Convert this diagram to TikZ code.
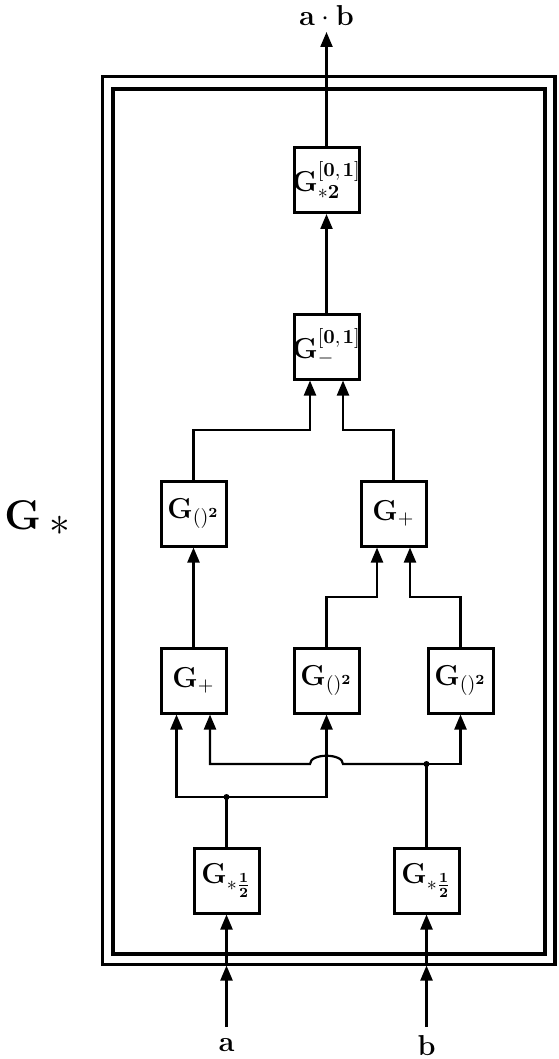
\documentclass[tikz,border=0pt]{standalone}
\usetikzlibrary{arrows.meta}
\begin{document}
\begin{tikzpicture}[x=0.5pt,y=-0.5pt,
  gbox/.style={draw,line width=1.5pt,minimum size=32.5pt,inner sep=0pt,font=\fontsize{14.4}{16}\selectfont},
  conn/.style={line width=1.1pt},
  arr/.style={conn,-{Triangle[length=7.5pt,width=6pt]}},
  lbl/.style={font=\fontsize{14.4}{17}\selectfont},
  dotm/.style={circle,fill,inner sep=0pt,minimum size=3pt}]
\useasboundingbox (0,0) rectangle (558,1059);
% frames
\draw[line width=1.6pt] (102.5,76.7) rectangle (555,964.3);
\draw[line width=2pt] (113,88.7) rectangle (545.3,954.3);
\node[font=\fontsize{20.74}{24}\selectfont,anchor=base west,inner sep=0pt] (gstar) at (4,529) {$\mathbf{G}_{\hspace{4pt}\textstyle\ast}$};
% boxes
\node[gbox] (m2) at (326.5,180) {\makebox[0pt]{$\mathbf{G}_{*\mathbf{2}}^{[\mathbf{0},\mkern2mu\mathbf{1}]}$}};
\node[gbox] (mm) at (326.5,346.5) {\makebox[0pt]{$\mathbf{G}_{-}^{[\mathbf{0},\mkern2mu\mathbf{1}]}$}};
\node[gbox] (sqL) at (193.5,513.5) {\makebox[0pt]{$\mathbf{G}_{()^{\mathbf{2}}}$}};
\node[gbox] (plR) at (393.5,513.5) {\makebox[0pt]{$\mathbf{G}_{+}$}};
\node[gbox] (plL) at (193.5,680.5) {\makebox[0pt]{$\mathbf{G}_{+}$}};
\node[gbox] (sqM) at (326.5,680.5) {\makebox[0pt]{$\mathbf{G}_{()^{\mathbf{2}}}$}};
\node[gbox] (sqR) at (460.5,680.5) {\makebox[0pt]{$\mathbf{G}_{()^{\mathbf{2}}}$}};
\node[gbox] (hA) at (226.5,880.5) {\makebox[0pt]{$\mathbf{G}_{*\frac{\mathbf{1}}{\mathbf{2}}}$}};
\node[gbox] (hB) at (426.5,880.5) {\makebox[0pt]{$\mathbf{G}_{*\frac{\mathbf{1}}{\mathbf{2}}}$}};
% labels
\node[lbl] (lab) at (326.5,16) {$\mathbf{a}\cdot\mathbf{b}$};
\node[lbl] (la) at (226.5,1045) {$\mathbf{a}$};
\node[lbl] (lb) at (426.5,1045) {$\mathbf{b}$};
% coordinates
\coordinate (out) at (326.5,32);
\coordinate (j1) at (310,430);
\coordinate (j2) at (343,430);
\coordinate (j3) at (377,597);
\coordinate (j4) at (410,597);
\coordinate (a1) at (176.5,797);
\coordinate (b1) at (210,764);
\coordinate (hopL) at (310,764);
\coordinate (hopR) at (343,764);
\node[dotm] (dA) at (226.5,797) {};
\node[dotm] (dB) at (426.5,764) {};
\coordinate (inA) at (226.5,1027);
\coordinate (inB) at (426.5,1027);
\coordinate (bdA) at (226.5,965.5);
\coordinate (bdB) at (426.5,965.5);
% connectors
\draw[arr] (m2.north) -- (out);
\draw[arr] (mm.north) -- (m2.south);
\draw[arr] (sqL.north) |- (j1) -- (j1 |- mm.south);
\draw[arr] (plR.north) |- (j2) -- (j2 |- mm.south);
\draw[arr] (plL.north) -- (sqL.south);
\draw[arr] (sqM.north) |- (j3) -- (j3 |- plR.south);
\draw[arr] (sqR.north) |- (j4) -- (j4 |- plR.south);
\draw[conn] (hA.north) -- (dA.center);
\draw[arr] (dA.center) -| (a1 |- plL.south);
\draw[arr] (dA.center) -| (sqM.south);
\draw[conn] (hB.north) -- (dB.center);
\draw[arr] (dB.center) -| (sqR.south);
\draw[arr] (dB.center) -- (hopR) .. controls +(0,-11) and +(0,-11) .. (hopL) -| (b1 |- plL.south);
\draw[arr] (inA) -- (bdA);
\draw[arr] (bdA) -- (hA.south);
\draw[arr] (inB) -- (bdB);
\draw[arr] (bdB) -- (hB.south);
\end{tikzpicture}
\end{document}
